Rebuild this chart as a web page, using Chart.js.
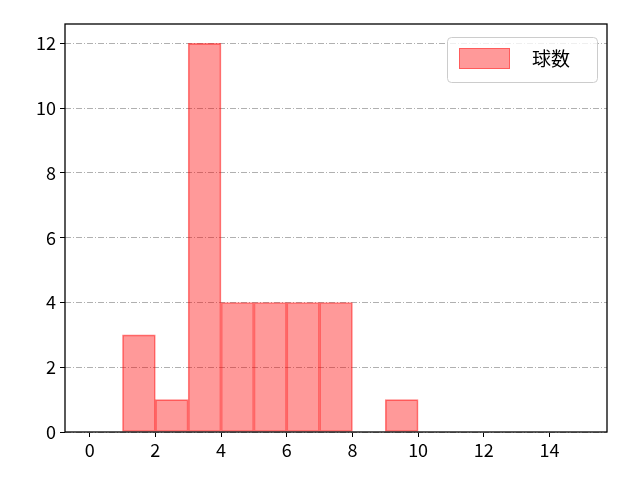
<!DOCTYPE html>
<html>
<head>
<meta charset="utf-8">
<script src="https://cdn.jsdelivr.net/npm/chart.js@4"></script>
<style>
  html, body { margin: 0; padding: 0; background: #fff; }
  #wrap { width: 640px; height: 480px; }
</style>
</head>
<body>
<div id="wrap"><canvas id="chart"></canvas></div>
<script>
// histogram bins (left edges) and counts
const binStarts = [0, 1, 2, 3, 4, 5, 6, 7, 8, 9, 10, 11, 12, 13, 14];
const counts = [null, 3, 1, 12, 4, 4, 4, 4, null, 1, null, null, null, null, null];
const xTicks = [0, 2, 4, 6, 8, 10, 12, 14];
const yTicks = [0, 2, 4, 6, 8, 10, 12];
const seriesLabel = '球数';

const FONT = "'Noto Sans CJK JP', 'DejaVu Sans', sans-serif";

// frame around plot area + matplotlib-like legend box
const framePlugin = {
    id: 'frame',
    afterDraw(chart) {
        const { ctx, chartArea: a } = chart;
        ctx.save();
        ctx.strokeStyle = '#000';
        ctx.lineWidth = 1.3;
        ctx.strokeRect(a.left, a.top, a.right - a.left, a.bottom - a.top);

        // legend
        const x = a.right - 160, y = a.top + 13, w = 150, h = 45;
        ctx.fillStyle = 'rgba(255,255,255,0.8)';
        ctx.strokeStyle = '#cccccc';
        ctx.lineWidth = 1;
        ctx.beginPath();
        ctx.roundRect(x + 0.5, y + 0.5, w, h, 4);
        ctx.fill();
        ctx.stroke();
        ctx.fillStyle = 'rgba(255,0,0,0.4)';
        ctx.fillRect(x + 12, y + 11, 51, 21);
        ctx.strokeStyle = 'rgba(255,0,0,0.4)';
        ctx.strokeRect(x + 12.5, y + 11.5, 50, 20);
        ctx.fillStyle = '#000';
        ctx.font = '19px ' + FONT;
        ctx.textBaseline = 'middle';
        ctx.fillText(seriesLabel, x + 85, y + 22);
        ctx.restore();
    }
};

new Chart(document.getElementById('chart'), {
    type: 'bar',
    data: {
        datasets: [{
            label: seriesLabel,
            data: binStarts.map((b, i) => ({ x: b + 0.5, y: counts[i] })),
            backgroundColor: 'rgba(255,0,0,0.4)',
            borderColor: 'rgba(255,0,0,0.5)',
            borderWidth: 1,
            borderSkipped: false,
            barPercentage: 1,
            categoryPercentage: 1,
        }]
    },
    options: {
        responsive: true,
        maintainAspectRatio: false,
        animation: false,
        layout: { padding: { left: 0, right: 33, top: 24, bottom: 0 } },
        plugins: { legend: { display: false }, tooltip: { enabled: false } },
        scales: {
            x: {
                type: 'linear',
                offset: false,
                min: -0.75,
                max: 15.75,
                afterBuildTicks: s => { s.ticks = xTicks.map(v => ({ value: v })); },
                afterFit: s => { s.height = 48; },
                grid: { offset: false, drawOnChartArea: false, drawTicks: true, tickLength: 5, tickColor: '#000', tickWidth: 1 },
                border: { display: false },
                ticks: { color: '#000', font: { size: 18, family: FONT }, padding: 2, maxRotation: 0 }
            },
            y: {
                min: 0,
                max: 12.6,
                afterBuildTicks: s => { s.ticks = yTicks.map(v => ({ value: v })); },
                afterFit: s => { s.width = 65; },
                grid: {
                    color: '#b0b0b0',
                    lineWidth: 1,
                    tickLength: 5,
                    tickColor: '#000',
                    tickBorderDash: [],
                },
                border: { display: false, dash: [6, 2, 1, 2] },
                ticks: { color: '#000', font: { size: 18, family: FONT }, padding: 4 }
            }
        }
    },
    plugins: [framePlugin]
});
</script>
</body>
</html>
